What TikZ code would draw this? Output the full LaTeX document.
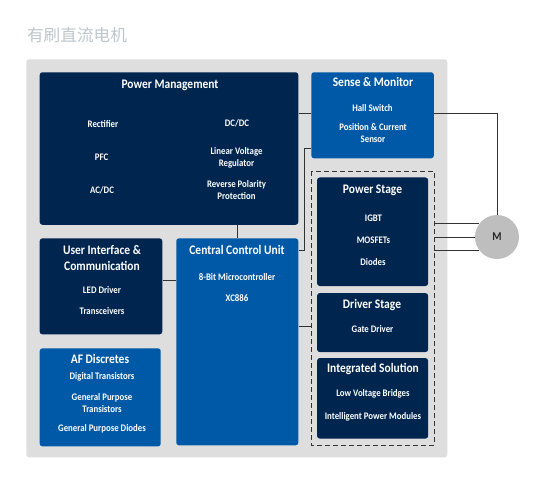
\documentclass[tikz,border=0pt]{standalone}
\usepackage{xcolor}
\usepackage{fontspec}
\setmainfont{Carlito}[FakeStretch=0.88]
\newfontfamily\cjk{Noto Sans CJK SC}
\usepackage{tikz}
\usetikzlibrary{positioning}
\definecolor{navyblock}{HTML}{00254F}
\definecolor{blueblock}{HTML}{0059A6}
\definecolor{panelgray}{HTML}{DEDEDF}
\definecolor{motorgray}{HTML}{BEBEBE}
\definecolor{titlegray}{HTML}{BFC6CB}
\definecolor{wiregray}{HTML}{333333}

\begin{document}
\begin{tikzpicture}[
  x=0.75pt, y=-0.75pt,
  block/.style={rectangle, rounded corners=2pt, inner sep=0pt, anchor=north west},
  navy/.style={block, fill=navyblock},
  blue/.style={block, fill=blueblock},
  heading/.style={text=white, align=center, inner sep=0pt, font=\bfseries\fontsize{9.8}{12}\selectfont},
  item/.style={text=white, align=center, inner sep=0pt, font=\bfseries\fontsize{7.5}{8.8}\selectfont},
  wire/.style={draw=wiregray, line width=0.75pt}
]
  \useasboundingbox (0,0) rectangle (550,476);
  \node[font=\cjk\fontsize{12.5}{14}\selectfont, text=titlegray, inner sep=0pt] (title) at (77,35) {有刷直流电机};

  \node[block, fill=panelgray, minimum width=315.75pt, minimum height=298.5pt] (panel) at (26,59) {};
  \node[navy, below right=9.75pt and 10.1pt of panel.north west, minimum width=193.9pt, minimum height=114.4pt] (power) {};
  \node[blue, right=9.4pt of power.north east, anchor=north west, minimum width=91.9pt, minimum height=64.5pt] (sense) {};
  \node[blue, below=9.75pt of power.south east, anchor=north east, minimum width=91.5pt, minimum height=155.25pt] (control) {};
  \node[navy, below=9.75pt of power.south west, anchor=north west, minimum width=91.9pt, minimum height=72pt] (interface) {};
  \node[blue, below=10.1pt of interface.south west, anchor=north west, minimum width=90.75pt, minimum height=73.5pt] (discretes) {};
  \node[block, below=9.5pt of sense.south west, anchor=north west, minimum width=91.9pt, minimum height=205pt] (group) {};
  \node[navy, below=4.5pt of group.north, anchor=north, minimum width=83.25pt, minimum height=81.4pt] (stage) {};
  \node[navy, below=4.9pt of stage.south, anchor=north, minimum width=83.25pt, minimum height=44.25pt] (driver) {};
  \node[navy, below=4.1pt of driver.south, anchor=north, minimum width=83.25pt, minimum height=60.4pt] (solution) {};
  \node[circle, fill=motorgray, minimum size=33pt, inner sep=0pt, font=\bfseries\fontsize{9}{10}\selectfont, text=black!85] (motor) at (497,237) {M};

  \draw[wire, dashed, dash pattern=on 3.6pt off 2.4pt] (group.north west) rectangle (group.south east);

  % text in the blocks
  \node[heading] (powerhead) at (170,85) {Power Management};
  \node[item] (rectifier) at (103,124) {Rectifier};
  \node[item] (pfc) at (101.5,157) {PFC};
  \node[item] (acdc) at (102,190.5) {AC/DC};
  \node[item] (dcdc) at (237,123.5) {DC/DC};
  \node[item] (linear) at (236.5,158) {Linear Voltage\\Regulator};
  \node[item] (reverse) at (236.5,190) {Reverse Polarity\\Protection};

  \node[heading] (sensehead) at (373,82) {Sense \& Monitor};
  \node[item] (hall) at (372.5,108) {Hall Switch};
  \node[item] (position) at (373,133) {Position \& Current\\Sensor};

  \node[heading] (stagehead) at (372.5,190) {Power Stage};
  \node[item] (igbt) at (373.5,218) {IGBT};
  \node[item] (mosfet) at (373.5,240) {MOSFETs};
  \node[item] (diodes) at (373,262.5) {Diodes};

  \node[heading] (driverhead) at (372,305) {Driver Stage};
  \node[item] (gate) at (372.5,329) {Gate Driver};

  \node[heading] (solutionhead) at (373,369) {Integrated Solution};
  \node[item] (bridges) at (373,393.5) {Low Voltage Bridges};
  \node[item] (modules) at (373,417) {Intelligent Power Modules};

  \node[heading] (controlhead) at (237,250) {Central Control Unit};
  \node[item] (micro) at (237,277) {8-Bit Microcontroller};
  \node[item] (xc) at (237,298) {XC886};

  \node[heading] (interfacehead) at (102,258) {User Interface \&\\Communication};
  \node[item] (led) at (102,290) {LED Driver};
  \node[item] (transceivers) at (102,311) {Transceivers};

  \node[heading] (discreteshead) at (100,359) {AF Discretes};
  \node[item] (digital) at (102,377) {Digital Transistors};
  \node[item] (general) at (102,403) {General Purpose\\Transistors};
  \node[item] (gendiodes) at (102,429) {General Purpose Diodes};

  % connectors
  \coordinate (senseline) at (0,113);
  \coordinate (feedtop) at (304.5,148);
  \coordinate (feedbottom) at (304.5,250);
  \coordinate (uiline) at (0,280);
  \coordinate (groupline) at (0,326);

  \draw[wire] (power.south -| control.north) -- (control.north);
  \draw[wire] (power.east |- senseline) -- (sense.west |- senseline);
  \draw[wire] (control.east |- feedbottom) -- (feedbottom) -- (feedtop) -- (sense.west |- feedtop);
  \draw[wire] (interface.east |- uiline) -- (control.west |- uiline);
  \draw[wire] (control.east |- groupline) -- (group.west |- groupline);
  \draw[wire] (sense.east |- senseline) -| (motor.north);
  \draw[wire] (group.east |- motor.142) -- (motor.142);
  \draw[wire] (group.east |- motor.west) -- (motor.west);
  \draw[wire] (group.east |- motor.218) -- (motor.218);
\end{tikzpicture}
\end{document}
